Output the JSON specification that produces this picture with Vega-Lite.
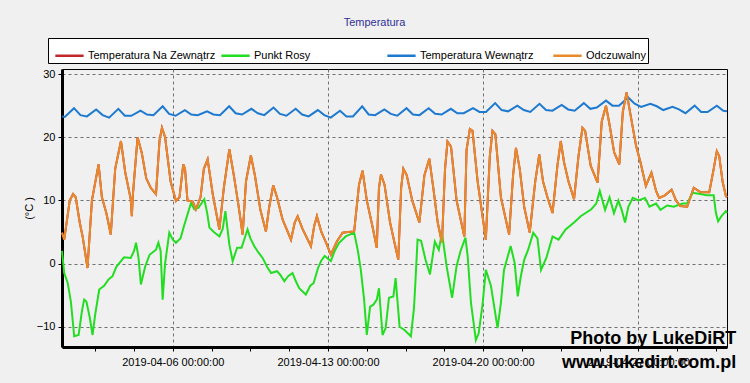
{
"$schema": "https://vega.github.io/schema/vega-lite/v6.json",
"width": 665, "height": 278,
"autosize": "none",
"padding": {"left": 62, "top": 69, "right": 23, "bottom": 36},
"background": "#f0f0f0",
"config": {
  "view": {"fill": "#f0f0f0", "stroke": "black", "strokeWidth": 1},
  "font": "Liberation Sans",
  "axis": {"labelFont": "Liberation Sans", "labelFontSize": 11, "labelColor": "black", "titleFont": "Liberation Sans", "titleFontSize": 11, "titleFontWeight": "normal", "titleColor": "black", "domainColor": "black", "domainWidth": 3, "tickColor": "black", "gridColor": "#707070", "gridDash": [3, 3], "gridWidth": 1, "labelOverlap": false, "labelFlush": false}
},
"title": {"text": "Temperatura", "fontSize": 11, "font": "Liberation Sans", "fontWeight": "normal", "color": "#30309a", "anchor": "middle", "dx": -20, "offset": 10},
"datasets": {
"orange": [
{"t":"2019-04-01T00:00","v":4.9},{"t":"2019-04-01T02:24","v":3.8},{"t":"2019-04-01T08:24","v":10.0},{"t":"2019-04-01T12:00","v":11.0},{"t":"2019-04-01T14:50","v":10.5},{"t":"2019-04-01T19:12","v":6.5},{"t":"2019-04-01T22:19","v":4.3},
{"t":"2019-04-02T03:36","v":-0.7},{"t":"2019-04-02T08:24","v":10.0},{"t":"2019-04-02T15:36","v":15.7},{"t":"2019-04-02T19:12","v":10.5},
{"t":"2019-04-03T00:00","v":8.0},{"t":"2019-04-03T04:48","v":4.6},{"t":"2019-04-03T09:36","v":15.0},{"t":"2019-04-03T15:50","v":19.4},{"t":"2019-04-03T20:24","v":14.5},
{"t":"2019-04-04T02:24","v":10.2},{"t":"2019-04-04T03:36","v":7.5},{"t":"2019-04-04T04:48","v":11.0},{"t":"2019-04-04T09:50","v":20.0},{"t":"2019-04-04T14:24","v":17.5},{"t":"2019-04-04T19:12","v":13.5},
{"t":"2019-04-05T00:00","v":12.0},{"t":"2019-04-05T05:46","v":11.0},{"t":"2019-04-05T09:36","v":19.5},{"t":"2019-04-05T12:14","v":21.5},{"t":"2019-04-05T15:36","v":20.0},{"t":"2019-04-05T21:36","v":13.0},
{"t":"2019-04-06T03:22","v":9.9},{"t":"2019-04-06T07:12","v":10.5},{"t":"2019-04-06T11:17","v":15.7},{"t":"2019-04-06T13:12","v":15.0},{"t":"2019-04-06T15:50","v":10.0},{"t":"2019-04-06T21:36","v":9.8},
{"t":"2019-04-07T00:58","v":8.6},{"t":"2019-04-07T06:00","v":10.5},{"t":"2019-04-07T09:36","v":15.0},{"t":"2019-04-07T13:41","v":16.5},{"t":"2019-04-07T19:12","v":11.0},
{"t":"2019-04-08T02:24","v":5.4},{"t":"2019-04-08T07:12","v":12.0},{"t":"2019-04-08T13:12","v":18.1},{"t":"2019-04-08T18:00","v":14.0},{"t":"2019-04-08T22:48","v":9.5},
{"t":"2019-04-09T03:36","v":4.6},{"t":"2019-04-09T07:12","v":13.0},{"t":"2019-04-09T12:29","v":17.1},{"t":"2019-04-09T16:48","v":14.0},{"t":"2019-04-09T22:48","v":8.5},
{"t":"2019-04-10T04:48","v":5.1},{"t":"2019-04-10T08:24","v":9.0},{"t":"2019-04-10T12:43","v":12.4},{"t":"2019-04-10T16:48","v":10.5},{"t":"2019-04-10T22:48","v":7.0},
{"t":"2019-04-11T07:55","v":3.8},{"t":"2019-04-11T12:00","v":6.5},{"t":"2019-04-11T15:07","v":7.5},{"t":"2019-04-11T20:24","v":5.5},
{"t":"2019-04-12T05:31","v":2.75},{"t":"2019-04-12T09:07","v":6.0},{"t":"2019-04-12T12:00","v":7.5},{"t":"2019-04-12T16:48","v":5.0},{"t":"2019-04-12T22:48","v":3.0},
{"t":"2019-04-13T03:07","v":1.4},{"t":"2019-04-13T09:36","v":3.5},{"t":"2019-04-13T15:50","v":4.9},{"t":"2019-04-13T21:36","v":5.0},
{"t":"2019-04-14T04:19","v":5.1},{"t":"2019-04-14T09:36","v":12.5},{"t":"2019-04-14T13:26","v":14.7},{"t":"2019-04-14T18:00","v":10.0},
{"t":"2019-04-15T00:00","v":6.0},{"t":"2019-04-15T04:48","v":2.5},{"t":"2019-04-15T07:12","v":12.0},{"t":"2019-04-15T09:22","v":14.1},{"t":"2019-04-15T13:12","v":12.5},{"t":"2019-04-15T19:12","v":6.5},
{"t":"2019-04-16T04:05","v":0.6},{"t":"2019-04-16T07:12","v":12.0},{"t":"2019-04-16T09:36","v":15.0},{"t":"2019-04-16T13:12","v":14.0},{"t":"2019-04-16T19:12","v":10.0},
{"t":"2019-04-17T02:53","v":6.5},{"t":"2019-04-17T08:24","v":14.0},{"t":"2019-04-17T13:41","v":16.6},{"t":"2019-04-17T18:00","v":12.0},{"t":"2019-04-17T22:48","v":6.5},
{"t":"2019-04-18T03:22","v":3.3},{"t":"2019-04-18T06:43","v":15.0},{"t":"2019-04-18T09:22","v":19.3},{"t":"2019-04-18T13:12","v":18.5},{"t":"2019-04-18T19:12","v":10.0},
{"t":"2019-04-19T03:36","v":4.3},{"t":"2019-04-19T06:00","v":18.0},{"t":"2019-04-19T09:36","v":21.3},{"t":"2019-04-19T12:29","v":21.0},{"t":"2019-04-19T18:00","v":13.0},
{"t":"2019-04-20T02:53","v":3.8},{"t":"2019-04-20T07:12","v":17.0},{"t":"2019-04-20T10:05","v":21.0},{"t":"2019-04-20T13:12","v":20.5},{"t":"2019-04-20T19:12","v":10.5},
{"t":"2019-04-21T04:05","v":4.6},{"t":"2019-04-21T08:24","v":14.0},{"t":"2019-04-21T11:31","v":18.3},{"t":"2019-04-21T15:36","v":15.0},{"t":"2019-04-21T20:24","v":9.0},
{"t":"2019-04-22T02:24","v":4.9},{"t":"2019-04-22T08:24","v":13.0},{"t":"2019-04-22T12:43","v":17.3},{"t":"2019-04-22T16:48","v":13.0},{"t":"2019-04-22T21:36","v":10.5},
{"t":"2019-04-23T03:07","v":8.0},{"t":"2019-04-23T08:24","v":15.5},{"t":"2019-04-23T12:00","v":19.4},{"t":"2019-04-23T15:36","v":16.0},{"t":"2019-04-23T20:24","v":13.0},
{"t":"2019-04-24T02:24","v":10.2},{"t":"2019-04-24T07:12","v":17.0},{"t":"2019-04-24T11:31","v":21.5},{"t":"2019-04-24T14:24","v":21.0},{"t":"2019-04-24T20:24","v":15.5},
{"t":"2019-04-25T03:50","v":12.8},{"t":"2019-04-25T08:24","v":22.5},{"t":"2019-04-25T12:58","v":25.0},{"t":"2019-04-25T16:48","v":22.0},{"t":"2019-04-25T21:50","v":17.6},
{"t":"2019-04-26T03:22","v":15.7},{"t":"2019-04-26T07:12","v":24.0},{"t":"2019-04-26T11:17","v":27.1},{"t":"2019-04-26T14:24","v":24.5},{"t":"2019-04-26T21:36","v":18.6},
{"t":"2019-04-27T02:24","v":16.0},{"t":"2019-04-27T08:10","v":12.3},{"t":"2019-04-27T14:10","v":14.4},{"t":"2019-04-27T19:12","v":11.5},{"t":"2019-04-27T22:34","v":10.4},
{"t":"2019-04-28T04:48","v":10.8},{"t":"2019-04-28T12:00","v":11.7},{"t":"2019-04-28T16:48","v":10.0},{"t":"2019-04-28T21:22","v":9.1},
{"t":"2019-04-29T04:48","v":9.0},{"t":"2019-04-29T12:00","v":12.0},{"t":"2019-04-29T19:12","v":11.3},
{"t":"2019-04-30T04:48","v":11.3},{"t":"2019-04-30T09:36","v":15.0},{"t":"2019-04-30T12:58","v":17.8},{"t":"2019-04-30T15:36","v":17.0},{"t":"2019-04-30T19:12","v":13.0},{"t":"2019-04-30T22:48","v":10.7},
{"t":"2019-05-01T00:00","v":10.5}
],
"green": [
{"t":"2019-04-01T00:00","v":2.0},{"t":"2019-04-01T02:24","v":-1.5},{"t":"2019-04-01T06:14","v":-3.1},{"t":"2019-04-01T09:36","v":-6.0},{"t":"2019-04-01T13:12","v":-11.5},{"t":"2019-04-01T18:00","v":-11.3},{"t":"2019-04-01T21:36","v":-7.5},
{"t":"2019-04-02T00:00","v":-5.7},{"t":"2019-04-02T02:24","v":-6.0},{"t":"2019-04-02T06:00","v":-8.5},{"t":"2019-04-02T09:07","v":-11.3},{"t":"2019-04-02T12:00","v":-8.0},{"t":"2019-04-02T16:19","v":-4.1},{"t":"2019-04-02T21:36","v":-3.5},
{"t":"2019-04-03T02:24","v":-2.5},{"t":"2019-04-03T06:43","v":-2.0},{"t":"2019-04-03T10:48","v":-0.5},{"t":"2019-04-03T15:50","v":0.4},{"t":"2019-04-03T19:12","v":1.0},
{"t":"2019-04-04T02:24","v":0.9},{"t":"2019-04-04T06:00","v":2.0},{"t":"2019-04-04T08:10","v":3.3},{"t":"2019-04-04T10:48","v":1.0},{"t":"2019-04-04T13:26","v":-3.3},{"t":"2019-04-04T18:00","v":-0.5},{"t":"2019-04-04T22:48","v":1.4},
{"t":"2019-04-05T05:46","v":2.2},{"t":"2019-04-05T08:24","v":3.3},{"t":"2019-04-05T10:48","v":2.0},{"t":"2019-04-05T12:58","v":-5.7},{"t":"2019-04-05T15:36","v":0.0},{"t":"2019-04-05T20:10","v":4.9},
{"t":"2019-04-06T00:00","v":3.8},{"t":"2019-04-06T03:22","v":3.3},{"t":"2019-04-06T08:24","v":4.0},{"t":"2019-04-06T12:00","v":5.9},{"t":"2019-04-06T19:41","v":9.6},{"t":"2019-04-06T23:17","v":8.6},
{"t":"2019-04-07T03:36","v":8.8},{"t":"2019-04-07T10:05","v":10.2},{"t":"2019-04-07T13:12","v":8.0},{"t":"2019-04-07T15:36","v":5.7},{"t":"2019-04-07T20:24","v":5.0},
{"t":"2019-04-08T02:24","v":4.3},{"t":"2019-04-08T06:00","v":5.5},{"t":"2019-04-08T08:53","v":8.3},{"t":"2019-04-08T13:12","v":3.0},{"t":"2019-04-08T16:48","v":0.4},{"t":"2019-04-08T21:36","v":2.5},
{"t":"2019-04-09T02:24","v":2.5},{"t":"2019-04-09T08:53","v":5.4},{"t":"2019-04-09T12:00","v":4.0},{"t":"2019-04-09T16:05","v":2.8},{"t":"2019-04-09T20:24","v":1.8},
{"t":"2019-04-10T01:12","v":0.9},{"t":"2019-04-10T06:00","v":-0.5},{"t":"2019-04-10T10:19","v":-1.5},{"t":"2019-04-10T16:48","v":-1.2},{"t":"2019-04-10T20:24","v":-1.8},
{"t":"2019-04-11T00:43","v":-2.8},{"t":"2019-04-11T04:48","v":-2.0},{"t":"2019-04-11T09:36","v":-1.5},{"t":"2019-04-11T13:12","v":-2.8},{"t":"2019-04-11T16:48","v":-3.9},
{"t":"2019-04-12T00:00","v":-4.9},{"t":"2019-04-12T04:48","v":-3.5},{"t":"2019-04-12T08:24","v":-3.1},{"t":"2019-04-12T13:12","v":-0.7},{"t":"2019-04-12T16:48","v":0.5},{"t":"2019-04-12T20:24","v":1.2},
{"t":"2019-04-13T03:07","v":0.4},{"t":"2019-04-13T07:12","v":2.0},{"t":"2019-04-13T12:00","v":3.3},{"t":"2019-04-13T19:12","v":4.3},
{"t":"2019-04-14T04:19","v":4.9},{"t":"2019-04-14T08:24","v":2.0},{"t":"2019-04-14T11:31","v":-1.0},{"t":"2019-04-14T15:07","v":-5.7},{"t":"2019-04-14T18:00","v":-11.3},{"t":"2019-04-14T21:36","v":-6.8},
{"t":"2019-04-15T01:12","v":-6.5},{"t":"2019-04-15T04:48","v":-5.7},{"t":"2019-04-15T07:12","v":-3.9},{"t":"2019-04-15T11:02","v":-11.3},{"t":"2019-04-15T14:24","v":-10.2},{"t":"2019-04-15T18:00","v":-5.4},{"t":"2019-04-15T22:48","v":-5.2},
{"t":"2019-04-16T01:12","v":-2.3},{"t":"2019-04-16T05:31","v":-10.0},{"t":"2019-04-16T10:48","v":-10.5},{"t":"2019-04-16T17:46","v":-11.5},{"t":"2019-04-16T21:07","v":-7.0},{"t":"2019-04-16T22:34","v":-3.1},
{"t":"2019-04-17T00:58","v":3.8},{"t":"2019-04-17T04:48","v":3.6},{"t":"2019-04-17T09:36","v":0.6},{"t":"2019-04-17T14:24","v":-1.7},{"t":"2019-04-17T19:41","v":3.5},
{"t":"2019-04-18T00:00","v":2.2},{"t":"2019-04-18T03:22","v":4.9},{"t":"2019-04-18T08:24","v":-0.4},{"t":"2019-04-18T14:24","v":-5.4},{"t":"2019-04-18T19:12","v":-0.4},{"t":"2019-04-18T23:31","v":2.0},
{"t":"2019-04-19T04:48","v":4.1},{"t":"2019-04-19T07:12","v":1.2},{"t":"2019-04-19T10:48","v":-6.2},{"t":"2019-04-19T16:05","v":-12.1},{"t":"2019-04-19T19:12","v":-11.0},{"t":"2019-04-19T23:31","v":-6.2},
{"t":"2019-04-20T02:53","v":-1.0},{"t":"2019-04-20T08:24","v":-3.5},{"t":"2019-04-20T15:36","v":-10.2},{"t":"2019-04-20T19:12","v":-6.2},{"t":"2019-04-20T22:34","v":-1.0},
{"t":"2019-04-21T05:46","v":2.8},{"t":"2019-04-21T10:05","v":0.1},{"t":"2019-04-21T13:26","v":-5.2},{"t":"2019-04-21T16:48","v":-2.0},{"t":"2019-04-21T20:24","v":0.6},
{"t":"2019-04-22T00:43","v":2.2},{"t":"2019-04-22T06:14","v":4.9},{"t":"2019-04-22T10:48","v":4.0},{"t":"2019-04-22T14:38","v":-1.0},{"t":"2019-04-22T20:24","v":0.9},
{"t":"2019-04-23T03:07","v":4.3},{"t":"2019-04-23T09:36","v":3.8},{"t":"2019-04-23T17:17","v":5.4},
{"t":"2019-04-24T02:24","v":6.5},{"t":"2019-04-24T09:36","v":7.5},{"t":"2019-04-24T21:07","v":8.6},
{"t":"2019-04-25T02:24","v":9.5},{"t":"2019-04-25T06:14","v":11.5},{"t":"2019-04-25T12:00","v":8.5},{"t":"2019-04-25T16:48","v":10.5},{"t":"2019-04-25T21:36","v":8.0},
{"t":"2019-04-26T02:24","v":10.0},{"t":"2019-04-26T06:00","v":8.5},{"t":"2019-04-26T09:36","v":6.5},{"t":"2019-04-26T13:12","v":9.0},{"t":"2019-04-26T18:00","v":10.4},
{"t":"2019-04-27T00:00","v":10.0},{"t":"2019-04-27T07:12","v":10.4},{"t":"2019-04-27T12:00","v":9.0},{"t":"2019-04-27T19:12","v":9.5},
{"t":"2019-04-28T00:00","v":8.5},{"t":"2019-04-28T07:12","v":9.2},{"t":"2019-04-28T14:24","v":9.0},
{"t":"2019-04-29T00:00","v":9.5},{"t":"2019-04-29T04:48","v":9.5},{"t":"2019-04-29T10:48","v":11.2},{"t":"2019-04-29T19:12","v":11.0},
{"t":"2019-04-30T02:24","v":10.8},{"t":"2019-04-30T09:36","v":10.8},{"t":"2019-04-30T12:00","v":8.0},{"t":"2019-04-30T14:24","v":6.7},{"t":"2019-04-30T18:00","v":7.5},{"t":"2019-04-30T22:48","v":8.3},
{"t":"2019-05-01T00:00","v":8.0}
],
"blue": [
{"t":"2019-04-01T00:00","v":23.3},
{"t":"2019-04-01T03:00","v":23.2},{"t":"2019-04-01T13:00","v":24.6},{"t":"2019-04-01T20:00","v":23.5},
{"t":"2019-04-02T03:00","v":23.3},{"t":"2019-04-02T13:00","v":24.4},{"t":"2019-04-02T20:00","v":23.5},
{"t":"2019-04-03T03:00","v":23.1},{"t":"2019-04-03T13:00","v":24.5},{"t":"2019-04-03T20:00","v":23.4},
{"t":"2019-04-04T03:00","v":23.4},{"t":"2019-04-04T13:00","v":24.2},{"t":"2019-04-04T20:00","v":23.6},
{"t":"2019-04-05T03:00","v":23.5},{"t":"2019-04-05T13:00","v":24.9},{"t":"2019-04-05T20:00","v":23.7},
{"t":"2019-04-06T03:00","v":23.4},{"t":"2019-04-06T13:00","v":24.3},{"t":"2019-04-06T20:00","v":23.6},
{"t":"2019-04-07T03:00","v":23.5},{"t":"2019-04-07T13:00","v":24.1},{"t":"2019-04-07T20:00","v":23.6},
{"t":"2019-04-08T03:00","v":23.5},{"t":"2019-04-08T13:00","v":24.9},{"t":"2019-04-08T20:00","v":23.8},
{"t":"2019-04-09T03:00","v":23.6},{"t":"2019-04-09T13:00","v":24.5},{"t":"2019-04-09T20:00","v":23.8},
{"t":"2019-04-10T03:00","v":23.5},{"t":"2019-04-10T13:00","v":24.7},{"t":"2019-04-10T20:00","v":23.7},
{"t":"2019-04-11T03:00","v":23.4},{"t":"2019-04-11T13:00","v":24.5},{"t":"2019-04-11T20:00","v":23.6},
{"t":"2019-04-12T03:00","v":23.3},{"t":"2019-04-12T13:00","v":24.3},{"t":"2019-04-12T20:00","v":23.5},
{"t":"2019-04-13T03:00","v":23.1},{"t":"2019-04-13T13:00","v":24.2},{"t":"2019-04-13T20:00","v":23.3},
{"t":"2019-04-14T03:00","v":23.3},{"t":"2019-04-14T13:00","v":24.9},{"t":"2019-04-14T20:00","v":23.6},
{"t":"2019-04-15T03:00","v":23.5},{"t":"2019-04-15T13:00","v":24.4},{"t":"2019-04-15T20:00","v":23.7},
{"t":"2019-04-16T03:00","v":23.4},{"t":"2019-04-16T13:00","v":24.6},{"t":"2019-04-16T20:00","v":23.6},
{"t":"2019-04-17T03:00","v":23.5},{"t":"2019-04-17T13:00","v":24.6},{"t":"2019-04-17T20:00","v":23.7},
{"t":"2019-04-18T03:00","v":23.6},{"t":"2019-04-18T13:00","v":24.5},{"t":"2019-04-18T20:00","v":23.8},
{"t":"2019-04-19T03:00","v":23.8},{"t":"2019-04-19T13:00","v":24.6},{"t":"2019-04-19T20:00","v":24.0},
{"t":"2019-04-20T03:00","v":24.0},{"t":"2019-04-20T13:00","v":25.4},{"t":"2019-04-20T20:00","v":24.3},
{"t":"2019-04-21T03:00","v":24.1},{"t":"2019-04-21T13:00","v":25.0},{"t":"2019-04-21T20:00","v":24.3},
{"t":"2019-04-22T03:00","v":24.0},{"t":"2019-04-22T13:00","v":25.3},{"t":"2019-04-22T20:00","v":24.3},
{"t":"2019-04-23T03:00","v":24.2},{"t":"2019-04-23T13:00","v":25.1},{"t":"2019-04-23T20:00","v":24.4},
{"t":"2019-04-24T03:00","v":24.2},{"t":"2019-04-24T13:00","v":25.4},{"t":"2019-04-24T20:00","v":24.5},
{"t":"2019-04-25T03:00","v":24.7},{"t":"2019-04-25T13:00","v":25.8},{"t":"2019-04-25T20:00","v":25.0},
{"t":"2019-04-26T03:00","v":25.0},{"t":"2019-04-26T13:00","v":26.3},{"t":"2019-04-26T20:00","v":25.3},
{"t":"2019-04-27T03:00","v":24.8},{"t":"2019-04-27T13:00","v":25.3},{"t":"2019-04-27T20:00","v":24.9},
{"t":"2019-04-28T03:00","v":24.3},{"t":"2019-04-28T13:00","v":24.8},{"t":"2019-04-28T20:00","v":24.4},
{"t":"2019-04-29T03:00","v":23.8},{"t":"2019-04-29T13:00","v":25.0},{"t":"2019-04-29T20:00","v":24.0},
{"t":"2019-04-30T03:00","v":24.0},{"t":"2019-04-30T13:00","v":25.0},{"t":"2019-04-30T20:00","v":24.2},
{"t":"2019-05-01T00:00","v":24.1}
]
},
"layer": [
{"data": {"name": "orange"}, "mark": {"type": "line", "strokeWidth": 2},
 "encoding": {
  "x": {"field": "t", "type": "temporal", "title": null,
    "scale": {"domain": [{"year": 2019, "month": 4, "date": 1}, {"year": 2019, "month": 5, "date": 1}]},
    "axis": {"values": [
      {"year":2019,"month":4,"date":2,"hours":12},{"year":2019,"month":4,"date":4,"hours":6},{"year":2019,"month":4,"date":6},
      {"year":2019,"month":4,"date":7,"hours":18},{"year":2019,"month":4,"date":9,"hours":12},{"year":2019,"month":4,"date":11,"hours":6},{"year":2019,"month":4,"date":13},
      {"year":2019,"month":4,"date":14,"hours":18},{"year":2019,"month":4,"date":16,"hours":12},{"year":2019,"month":4,"date":18,"hours":6},{"year":2019,"month":4,"date":20},
      {"year":2019,"month":4,"date":21,"hours":18},{"year":2019,"month":4,"date":23,"hours":12},{"year":2019,"month":4,"date":25,"hours":6},{"year":2019,"month":4,"date":27},
      {"year":2019,"month":4,"date":28,"hours":18},{"year":2019,"month":4,"date":30,"hours":12}],
     "labelExpr": "hours(datum.value) == 0 ? timeFormat(datum.value, '%Y-%m-%d %H:%M:%S') : ''",
     "grid": true,
     "gridOpacity": {"condition": {"test": "hours(datum.value) == 0", "value": 1}, "value": 0},
     "tickSize": 4, "labelPadding": 5}},
  "y": {"field": "v", "type": "quantitative", "title": "(°C )",
    "scale": {"domain": [-13.2, 30.8], "nice": false, "zero": false},
    "axis": {"values": [-10, -5, 0, 5, 10, 15, 20, 25, 30], "grid": true, "tickSize": 4, "labelPadding": 3, "titlePadding": 2}},
  "color": {"datum": "Temperatura Na Zewnątrz", "type": "nominal",
    "scale": {"domain": ["Temperatura Na Zewnątrz", "Punkt Rosy", "Temperatura Wewnątrz", "Odczuwalny"], "range": ["#c0282b", "#22dd22", "#1e7ad0", "#e8892b"]},
    "legend": {"orient": "none", "legendX": -14, "legendY": -31, "direction": "horizontal", "columns": 4, "gridAlign": "all", "title": null,
      "symbolType": "stroke", "symbolSize": 800, "symbolStrokeWidth": 2.5, "labelFont": "Liberation Sans", "labelFontSize": 11, "labelColor": "black", "labelOffset": 3,
      "labelExpr": "datum.label == 'Odczuwalny' ? datum.label + '\u00a0\u00a0\u00a0\u00a0\u00a0\u00a0\u00a0\u00a0\u00a0\u00a0\u00a0\u00a0\u00a0\u00a0\u00a0\u00a0\u00a0\u00a0\u00a0\u00a0\u00a0' : datum.label",
      "columnPadding": 0, "padding": 2, "symbolOffset": 4, "strokeColor": "black", "fillColor": "white"}}
 }},
{"data": {"name": "green"}, "mark": {"type": "line", "strokeWidth": 2},
 "encoding": {"x": {"field": "t", "type": "temporal"}, "y": {"field": "v", "type": "quantitative"}, "color": {"datum": "Punkt Rosy", "type": "nominal"}}},
{"data": {"name": "blue"}, "mark": {"type": "line", "strokeWidth": 2},
 "encoding": {"x": {"field": "t", "type": "temporal"}, "y": {"field": "v", "type": "quantitative"}, "color": {"datum": "Temperatura Wewnątrz", "type": "nominal"}}},
{"data": {"name": "orange"}, "mark": {"type": "line", "strokeWidth": 2},
 "encoding": {"x": {"field": "t", "type": "temporal"}, "y": {"field": "v", "type": "quantitative"}, "color": {"datum": "Odczuwalny", "type": "nominal"}}},
{"data": {"values": [{}]}, "mark": {"type": "text", "align": "right", "baseline": "alphabetic", "font": "Liberation Sans", "fontSize": 18, "fontWeight": "bold", "color": "black"},
 "encoding": {"x": {"datum": {"year": 2019, "month": 5, "date": 1, "hours": 10}, "type": "temporal"}, "y": {"datum": -12.65, "type": "quantitative"}, "text": {"value": "Photo by LukeDiRT"}}},
{"data": {"values": [{}]}, "mark": {"type": "text", "align": "right", "baseline": "alphabetic", "font": "Liberation Sans", "fontSize": 18, "fontWeight": "bold", "color": "black"},
 "encoding": {"x": {"datum": {"year": 2019, "month": 5, "date": 1, "hours": 10}, "type": "temporal"}, "y": {"datum": -16.46, "type": "quantitative"}, "text": {"value": "www.lukedirt.com.pl"}}}
]
}
